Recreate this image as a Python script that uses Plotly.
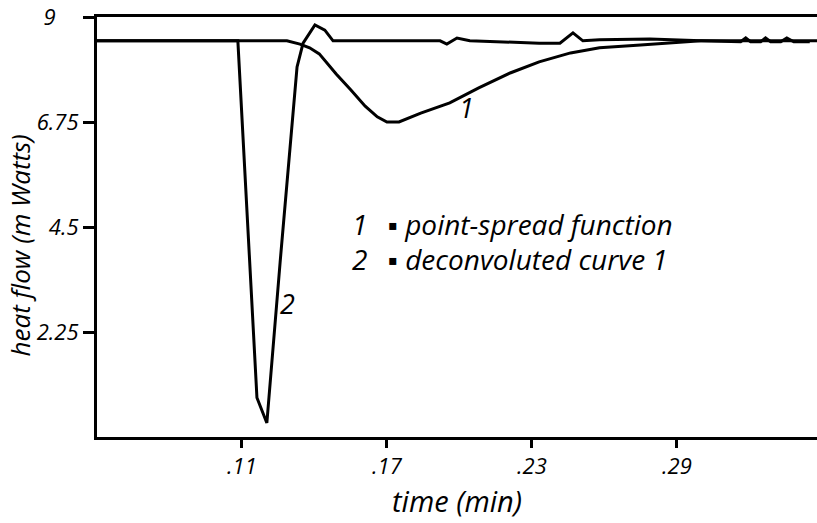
import plotly.graph_objects as go

# Curve 1: point-spread function
t1 = [0.05, 0.1286, 0.134, 0.138, 0.142, 0.149, 0.155, 0.161, 0.166, 0.170, 0.175,
      0.184, 0.196, 0.208, 0.221, 0.233, 0.246, 0.258, 0.275, 0.291, 0.300, 0.348]
h1 = [8.49, 8.49, 8.42, 8.34, 8.21, 7.78, 7.44, 7.09, 6.86, 6.75, 6.75,
      6.94, 7.16, 7.48, 7.80, 8.04, 8.23, 8.34, 8.40, 8.46, 8.49, 8.49]

# Curve 2: deconvoluted curve 1
t2 = [0.05, 0.1083, 0.1162, 0.1203, 0.1258, 0.1328, 0.1353, 0.1402, 0.1443, 0.1477,
      0.192, 0.1948, 0.199, 0.2043, 0.233, 0.2416, 0.247, 0.2511, 0.258, 0.2788,
      0.300, 0.3164, 0.3185, 0.3205, 0.3247, 0.3267, 0.3288, 0.333, 0.3355, 0.3384, 0.345]
h2 = [8.49, 8.49, 0.84, 0.30, 3.75, 7.93, 8.44, 8.83, 8.72, 8.49,
      8.49, 8.42, 8.55, 8.49, 8.44, 8.44, 8.66, 8.49, 8.51, 8.53,
      8.49, 8.47, 8.55, 8.47, 8.47, 8.55, 8.47, 8.47, 8.55, 8.47, 8.47]

x_ticks = [0.11, 0.17, 0.23, 0.29]
x_tick_labels = [".11", ".17", ".23", ".29"]
y_ticks = [2.25, 4.5, 6.75, 9]
y_tick_labels = ["2.25", "4.5", "6.75", "9&nbsp;&nbsp;&nbsp;&nbsp;"]

FONT = "Open Sans"

fig = go.Figure()
fig.add_trace(go.Scatter(x=t1, y=h1, mode="lines", line=dict(color="black", width=3),
                         showlegend=False, hoverinfo="skip"))
fig.add_trace(go.Scatter(x=t2, y=h2, mode="lines", line=dict(color="black", width=3),
                         showlegend=False, hoverinfo="skip"))

lab_font = dict(family=FONT, size=27, color="black", style="italic")
leg_font = dict(family=FONT, size=28, color="black", style="italic")
annotations = [
    dict(x=0.2031, y=7.07, text="1", showarrow=False, xref="x", yref="y", font=lab_font),
    dict(x=0.129, y=2.87, text="2", showarrow=False, xref="x", yref="y", font=lab_font),
    dict(x=0.1588, y=4.56, text="1", showarrow=False, xref="x", yref="y", font=leg_font),
    dict(x=0.1588, y=3.81, text="2", showarrow=False, xref="x", yref="y", font=leg_font),
    dict(x=0.1695, y=4.56, text="▪ point-spread function", showarrow=False, xref="x", yref="y",
         xanchor="left", font=leg_font),
    dict(x=0.1695, y=3.81, text="▪ deconvoluted curve 1", showarrow=False, xref="x", yref="y",
         xanchor="left", font=leg_font),
    dict(x=0.5, y=-0.152, text="time (min)", showarrow=False, xref="paper", yref="paper",
         xanchor="center", yanchor="middle", font=dict(family=FONT, size=29, color="black", style="italic")),
    dict(x=-0.1065, y=0.457, text="heat flow (m Watts)", showarrow=False, xref="paper", yref="paper",
         xanchor="center", yanchor="middle", textangle=-90,
         font=dict(family=FONT, size=26, color="black", style="italic")),
]

fig.update_layout(
    width=817, height=523,
    margin=dict(l=97, r=0, t=17, b=86),
    paper_bgcolor="white", plot_bgcolor="white",
    annotations=annotations,
    xaxis=dict(range=[0.05, 0.348], tickvals=x_ticks, ticktext=x_tick_labels,
               ticks="outside", ticklen=8, tickwidth=2.5, tickcolor="black",
               showline=True, linecolor="black", linewidth=3, mirror=True,
               showgrid=False, zeroline=False,
               tickfont=dict(family=FONT, size=22, color="black", style="italic")),
    yaxis=dict(range=[0, 9], tickvals=y_ticks, ticktext=y_tick_labels,
               ticks="outside", ticklen=11, tickwidth=2.5, tickcolor="black",
               showline=True, linecolor="black", linewidth=3,
               showgrid=False, zeroline=False,
               tickfont=dict(family=FONT, size=22, color="black", style="italic")),
)

fig.write_html("out.html")
